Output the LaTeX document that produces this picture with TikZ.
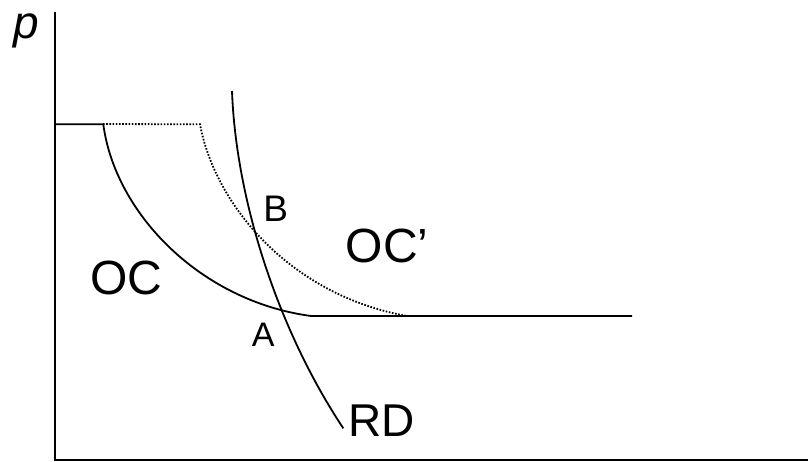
\documentclass[tikz,border=0pt]{standalone}
\usepackage{fontspec}
\setmainfont{Liberation Sans}
\begin{document}
\begin{tikzpicture}[x=1pt,y=-1pt,
  curve/.style={line width=1.8pt, line join=round},
  axis/.style={line width=2pt},
  dotline/.style={line width=1.8pt, dash pattern=on 1.6pt off 1.6pt},
  lbl/.style={inner sep=0pt, anchor=base}]
\useasboundingbox (0,0) rectangle (808,461);
% axes
\coordinate (top) at (55,12);
\coordinate (origin) at (55,460);
\coordinate (right) at (808,460);
\draw[axis] (top) -- (origin) -- (right);
% OC' dotted
\coordinate (d0) at (103,124);
\coordinate (d1) at (200,124.3);
\coordinate (d2) at (407,316);
\draw[dotline] (d0) -- (d1) .. controls (215,205) and (290,295) .. (d2);
% OC solid
\coordinate (s0) at (55,124.3);
\coordinate (s1) at (103.3,124.3);
\coordinate (s2) at (311,316);
\coordinate (s3) at (632,316);
\draw[curve] (s0) -- (s1) .. controls (115,213) and (200,301) .. (s2) -- (s3);
% RD
\coordinate (r0) at (232,91);
\coordinate (r1) at (343.3,428.3);
\draw[curve] (r0) .. controls (236,200) and (278,330) .. (r1);
% labels
\node[lbl, font=\itshape\fontsize{46}{46}\selectfont] (p) at (26,38.5) {p};
\node[lbl, font=\fontsize{48}{48}\selectfont] (oc) at (126.5,294) {OC};
\node[lbl, font=\fontsize{48}{48}\selectfont, anchor=base west] (ocp) at (345.5,262) {OC’};
\node[lbl, font=\fontsize{37}{37}\selectfont] (b) at (275.8,221) {B};
\node[lbl, font=\fontsize{34}{34}\selectfont] (a) at (263.3,346) {A};
\node[lbl, font=\fontsize{46}{46}\selectfont] (rd) at (382,436) {RD};
\end{tikzpicture}
\end{document}
